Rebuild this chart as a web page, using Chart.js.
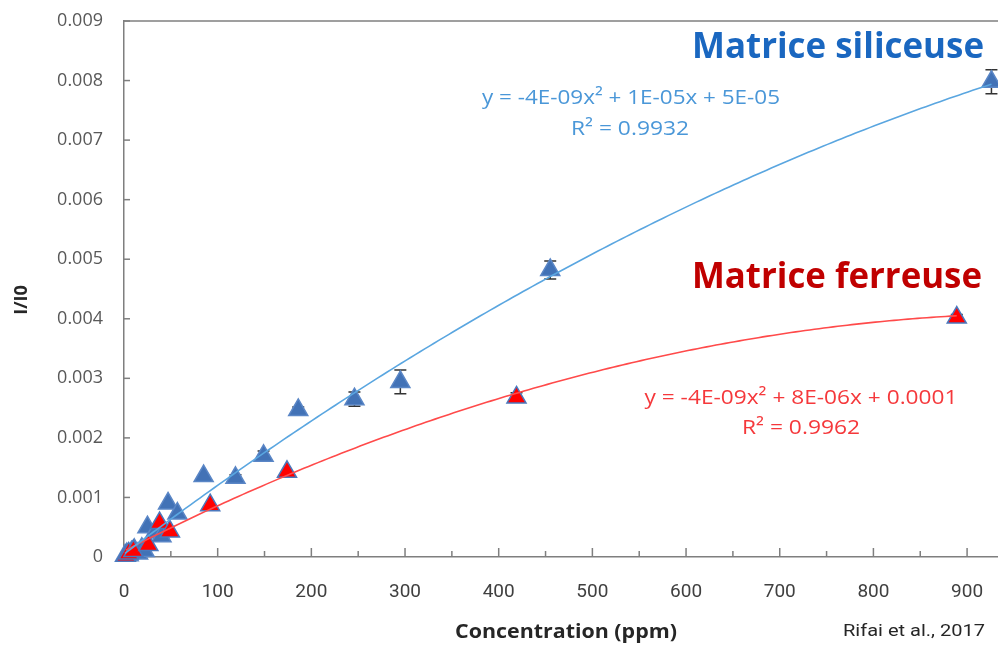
<!DOCTYPE html>
<html>
<head>
<meta charset="utf-8">
<script src="https://cdn.jsdelivr.net/npm/chart.js@4.4.0/dist/chart.umd.min.js"></script>
<style>
  html, body { margin: 0; padding: 0; background: #fff; }
</style>
</head>
<body>
<canvas id="mycanvas" width="998" height="646"></canvas>
<script>
// Matrice siliceuse : concentration (ppm) / rapport I/I0 / barre d'erreur
var siliX   = [1, 3, 5, 8, 11, 15, 19, 22, 25, 33, 40, 47, 57, 85, 119, 149, 186, 246, 295, 455, 926];
var siliY   = [0.00002, 0.00005, 0.00003, 0.00008, 0.00012, 0.00006, 0.00014, 0.0001, 0.0005, 0.00041, 0.00035, 0.0009, 0.00073, 0.00136, 0.00133, 0.0017, 0.00247, 0.00265, 0.00294, 0.00482, 0.00798];
var siliErr = [0, 0, 0, 0, 0, 0, 0, 0, 0, 0, 0, 0, 0, 0, 0.00005, 0.00008, 0.00005, 0.00012, 0.0002, 0.00015, 0.0002];

// Matrice ferreuse
var ferX   = [2, 5, 10, 26, 38, 49, 92, 174, 419, 889];
var ferY   = [0.00002, 0.00006, 0.0001, 0.0002, 0.00057, 0.00043, 0.00087, 0.00143, 0.00268, 0.00402];
var ferErr = [0, 0, 0, 0, 0, 0, 0, 0, 0.00008, 0.00005];

// coefficients des courbes de tendance polynomiales (a, b, c)
var siliFit = [-3.65e-9, 1.19e-5, 5e-5];
var ferFit  = [-4e-9, 8e-6, 1e-4];

var xTicks = [0, 100, 200, 300, 400, 500, 600, 700, 800, 900];
var yTicks = [0, 0.001, 0.002, 0.003, 0.004, 0.005, 0.006, 0.007, 0.008, 0.009];

function points(xs, ys) {
  var out = [];
  for (var i = 0; i < xs.length; i++) out.push({x: xs[i], y: ys[i]});
  return out;
}

function trend(coef, x0, x1) {
  var out = [];
  for (var x = x0; x <= x1; x += 5) out.push({x: x, y: coef[0]*x*x + coef[1]*x + coef[2]});
  out.push({x: x1, y: coef[0]*x1*x1 + coef[1]*x1 + coef[2]});
  return out;
}

// texte centré, étiré horizontalement à une largeur donnée
function fitText(ctx, text, cx, cy, width) {
  var w = ctx.measureText(text).width;
  ctx.save();
  ctx.translate(cx, cy);
  ctx.scale(width / w, 1);
  ctx.fillText(text, 0, 0);
  ctx.restore();
}

var siliMax = Math.max.apply(null, siliX), siliMin = Math.min.apply(null, siliX);
var ferMax = Math.max.apply(null, ferX), ferMin = Math.min.apply(null, ferX);

// cadre haut, graduations intérieures, barres d'erreur
var axisExtras = {
  id: 'axisExtras',
  beforeDatasetsDraw: function(chart) {
    var ctx = chart.ctx, a = chart.chartArea, sx = chart.scales.x, sy = chart.scales.y;
    ctx.save();
    ctx.strokeStyle = '#7f7f7f';
    ctx.lineWidth = 1.5;
    ctx.beginPath();
    ctx.moveTo(a.left, a.top);
    ctx.lineTo(a.right, a.top);
    ctx.stroke();

    sx.ticks.forEach(function(t) {
      if (t.value === 0) return;
      var px = sx.getPixelForValue(t.value);
      var len = t.value % 100 === 0 ? 9 : 6;
      ctx.beginPath();
      ctx.moveTo(px, a.bottom);
      ctx.lineTo(px, a.bottom - len);
      ctx.stroke();
    });
    sy.ticks.forEach(function(t) {
      if (t.value === 0) return;
      var py = sy.getPixelForValue(t.value);
      ctx.beginPath();
      ctx.moveTo(a.left, py);
      ctx.lineTo(a.left + 6, py);
      ctx.stroke();
    });

    ctx.strokeStyle = '#333';
    ctx.lineWidth = 1.5;
    function bars(xs, ys, es) {
      for (var i = 0; i < xs.length; i++) {
        if (!es[i]) continue;
        var px = sx.getPixelForValue(xs[i]);
        var top = sy.getPixelForValue(ys[i] + es[i]);
        var bot = sy.getPixelForValue(ys[i] - es[i]);
        ctx.beginPath();
        ctx.moveTo(px, top); ctx.lineTo(px, bot);
        ctx.moveTo(px - 6, top); ctx.lineTo(px + 6, top);
        ctx.moveTo(px - 6, bot); ctx.lineTo(px + 6, bot);
        ctx.stroke();
      }
    }
    bars(siliX, siliY, siliErr);
    bars(ferX, ferY, ferErr);
    ctx.restore();
  },
  afterDraw: function(chart) {
    var ctx = chart.ctx;
    ctx.save();
    ctx.textAlign = 'center';
    ctx.textBaseline = 'middle';

    ctx.font = 'bold 36px "Open Sans"';
    ctx.fillStyle = '#1a67c0';
    fitText(ctx, 'Matrice siliceuse', 838, 48, 292);
    ctx.fillStyle = '#c00000';
    fitText(ctx, 'Matrice ferreuse', 837, 278, 290);

    ctx.font = '20px "Open Sans"';
    ctx.fillStyle = '#4a97d8';
    fitText(ctx, 'y = -4E-09x² + 1E-05x + 5E-05', 631, 98, 298);
    fitText(ctx, 'R² = 0.9932', 630, 129, 118);
    ctx.fillStyle = '#f5383b';
    fitText(ctx, 'y = -4E-09x² + 8E-06x + 0.0001', 801, 398, 313);
    fitText(ctx, 'R² = 0.9962', 801, 428, 118);

    ctx.fillStyle = '#262626';
    ctx.font = 'bold 19px "Open Sans"';
    fitText(ctx, 'Concentration (ppm)', 566, 633, 222);
    ctx.font = '16px Roboto';
    fitText(ctx, 'Rifai et al., 2017', 914, 632, 142);

    ctx.translate(22, 300);
    ctx.rotate(-Math.PI / 2);
    ctx.font = 'bold 18px "Open Sans"';
    ctx.fillText('I/I0', 0, 0);
    ctx.restore();
  }
};

var ctx = document.getElementById('mycanvas');
var chart = new Chart(ctx, {
  type: 'scatter',
  data: {
    datasets: [
      {
        type: 'line',
        data: trend(siliFit, siliMin, siliMax),
        borderColor: '#5aa6e0',
        borderWidth: 1.6,
        pointRadius: 0,
        fill: false,
        clip: false
      },
      {
        type: 'line',
        data: trend(ferFit, ferMin, ferMax),
        borderColor: '#ff4a4a',
        borderWidth: 1.6,
        pointRadius: 0,
        fill: false,
        clip: false
      },
      {
        data: points(ferX, ferY),
        pointStyle: 'triangle',
        pointRadius: 11,
        backgroundColor: '#ff0000',
        borderColor: '#4a78bd',
        borderWidth: 1.5,
        clip: false
      },
      {
        data: points(siliX, siliY),
        pointStyle: 'triangle',
        pointRadius: 11,
        backgroundColor: '#4272b6',
        borderColor: '#5a86c6',
        borderWidth: 1.5,
        clip: false
      }
    ]
  },
  options: {
    responsive: false,
    animation: false,
    layout: { autoPadding: false, padding: { top: 21, right: 0, left: 0, bottom: 0 } },
    plugins: { legend: { display: false }, tooltip: { enabled: false } },
    scales: {
      x: {
        type: 'linear',
        min: 0,
        max: 933,
        afterFit: function(s) { s.height = 89; s.paddingLeft = 0; s.paddingRight = 0; },
        afterBuildTicks: function(s) {
          var t = [];
          for (var v = 0; v <= 900; v += 50) t.push({value: v});
          s.ticks = t;
        },
        ticks: {
          autoSkip: false,
          maxRotation: 0,
          padding: 16,
          color: '#404040',
          font: { family: 'Roboto', size: 19 },
          callback: function(v) { return xTicks.indexOf(v) >= 0 ? String(v) : ''; }
        },
        grid: { display: false },
        border: { color: '#7f7f7f', width: 1.5 }
      },
      y: {
        min: 0,
        max: 0.009,
        afterFit: function(s) { s.width = 124; s.paddingTop = 0; s.paddingBottom = 0; },
        afterBuildTicks: function(s) {
          s.ticks = yTicks.map(function(v) { return {value: v}; });
        },
        ticks: {
          padding: 13,
          color: '#595959',
          font: { family: '"Open Sans"', size: 18 },
          callback: function(v) { return v === 0 ? '0' : v.toFixed(3); }
        },
        grid: { display: false },
        border: { color: '#7f7f7f', width: 1.5 }
      }
    }
  },
  plugins: [axisExtras]
});
</script>
</body>
</html>
